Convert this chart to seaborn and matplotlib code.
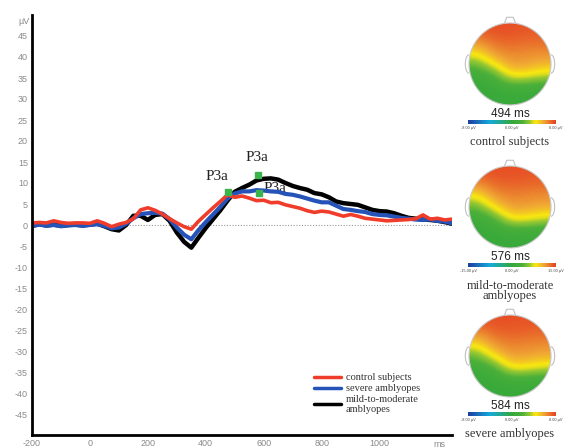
import numpy as np
import pandas as pd
import matplotlib
matplotlib.use("Agg")
import matplotlib.pyplot as plt
import seaborn as sns
from matplotlib.colors import LinearSegmentedColormap, Normalize
from matplotlib.patches import Circle, Polygon, Arc
import matplotlib.colorbar as mcolorbar

# ERP waveforms (ms, µV)
times = list(range(-200, 1251, 25))
control = [0.5, 0.6, 0.5, 1.0, 0.6, 0.4, 0.5, 0.5, 0.4, 1.0, 0.4, -0.4, 0.2, 0.6, 1.5, 3.6,
           4.1, 3.5, 2.6, 1.5, 0.5, -0.4, -1.0, 0.9, 2.5, 4.1, 5.6, 7.2, 6.6, 6.9, 6.4, 5.8,
           5.9, 5.3, 5.4, 4.8, 4.4, 4.0, 3.4, 3.0, 3.3, 3.1, 2.6, 2.1, 2.5, 2.1, 1.6, 1.4,
           1.2, 1.0, 1.1, 1.2, 1.3, 1.5, 2.4, 1.4, 1.6, 1.2, 1.4]
severe = [-0.3, 0.1, -0.2, 0.0, -0.3, -0.1, 0.0, -0.2, 0.0, 0.2, -0.2, -0.8, -0.6, 0.3, 1.6, 2.6,
          2.8, 2.9, 2.7, 1.4, -0.6, -2.3, -3.4, -1.2, 0.7, 2.5, 4.3, 6.3, 7.5, 8.0, 8.0, 8.3,
          8.2, 8.0, 7.9, 7.4, 7.2, 6.8, 6.3, 5.8, 5.4, 5.4, 4.6, 3.8, 3.6, 3.3, 3.1, 2.6,
          2.4, 2.3, 2.0, 1.7, 1.5, 1.3, 1.2, 1.3, 1.0, 0.8, 0.4]
mild = [-0.2, 0.2, -0.1, 0.1, -0.2, 0.0, 0.1, -0.1, 0.1, 0.3, -0.3, -1.0, -1.3, 0.0, 2.2, 2.2,
        1.2, 2.4, 2.6, 1.0, -1.8, -4.0, -5.4, -3.0, -0.7, 1.4, 3.5, 5.8, 7.9, 8.8, 9.6, 10.6,
        11.0, 11.1, 10.8, 10.0, 9.3, 8.8, 8.4, 7.6, 7.3, 6.6, 5.6, 5.2, 5.0, 4.8, 4.2, 3.6,
        3.3, 3.2, 2.8, 2.2, 1.7, 1.5, 1.3, 1.2, 1.0, 0.7, 0.3]

groups = ["control subjects", "severe amblyopes", "mild-to-moderate\namblyopes"]
colors = ["#f03c2a", "#2553b8", "#000000"]

# P3a peak markers: (ms, µV) and label positions
p3a_t = [476, 580, 582]
p3a_v = [7.8, 11.8, 7.6]
p3a_label_t = [438, 575, 640]
p3a_label_v = [10.0, 14.5, 7.2]

# scalp maps (normalised value grid, top row = front of head)
maps_time = ["494 ms", "576 ms", "584 ms"]
maps_range = [["-8.00 µV", "0.00 µV", "8.00 µV"],
              ["-15.00 µV", "0.00 µV", "15.00 µV"],
              ["-8.00 µV", "0.00 µV", "8.00 µV"]]
maps_title = ["control subjects", "mild-to-moderate\namblyopes", "severe amblyopes"]
map_control = [[0.92, 0.95, 0.95, 0.93, 0.92],
               [0.80, 0.88, 0.90, 0.88, 0.88],
               [0.57, 0.78, 0.82, 0.80, 0.80],
               [0.30, 0.55, 0.75, 0.74, 0.68],
               [0.12, 0.20, 0.55, 0.53, 0.45],
               [0.05, 0.08, 0.15, 0.15, 0.12],
               [0.02, 0.03, 0.05, 0.05, 0.05]]
map_mild = [[0.92, 0.95, 0.95, 0.94, 0.93],
            [0.80, 0.88, 0.90, 0.89, 0.88],
            [0.55, 0.78, 0.83, 0.81, 0.80],
            [0.28, 0.56, 0.75, 0.74, 0.70],
            [0.12, 0.20, 0.55, 0.54, 0.47],
            [0.05, 0.08, 0.15, 0.15, 0.12],
            [0.02, 0.03, 0.05, 0.05, 0.05]]
map_severe = [[0.92, 0.95, 0.95, 0.94, 0.93],
              [0.80, 0.88, 0.90, 0.89, 0.88],
              [0.56, 0.78, 0.83, 0.81, 0.80],
              [0.29, 0.56, 0.75, 0.74, 0.70],
              [0.12, 0.20, 0.55, 0.54, 0.47],
              [0.05, 0.08, 0.15, 0.15, 0.12],
              [0.02, 0.03, 0.05, 0.05, 0.05]]
maps = [map_control, map_mild, map_severe]

sns.set_theme(style="white")
plt.rcParams["font.family"] = ["Liberation Sans", "DejaVu Sans"]
plt.rcParams["axes.unicode_minus"] = False

W, H = 571, 448
fig = plt.figure(figsize=(W / 100, H / 100), dpi=100)
ax = fig.add_axes([32 / W, 13 / H, 420 / W, 420 / H])

df = pd.DataFrame({
    "time": times * 3,
    "amp": control + severe + mild,
    "group": [groups[0]] * len(times) + [groups[1]] * len(times) + [groups[2]] * len(times),
})
ax.axhline(0, color="#9a9a9a", lw=0.8, ls=(0, (1, 1.5)), zorder=0)
sns.lineplot(data=df, x="time", y="amp", hue="group",
             hue_order=groups[::-1], palette=dict(zip(groups, colors)),
             estimator=None, sort=False, ax=ax, legend=False)
for line, lw in zip(ax.lines[1:], [3.2, 3.0, 2.6]):
    line.set_linewidth(lw)
    line.set_solid_joinstyle("round")

serif = ["Liberation Serif", "DejaVu Serif"]
for lt, lv in zip(p3a_label_t, p3a_label_v):
    ax.text(lt, lv, "P3a", family=serif, fontsize=11, ha="center", va="bottom",
            color="#222222", zorder=1)
ax.plot(p3a_t, p3a_v, "s", color="#3cb44b", ms=4, zorder=5)

ax.set_xlim(-200, 1250)
ax.set_ylim(-50, 50)
ax.set_xticks(range(-200, 1001, 200))
ax.set_yticks(range(-45, 46, 5))
ax.tick_params(axis="both", labelsize=6.5, labelcolor="#8a8a8a", length=0, pad=3)
ax.set_xlabel("")
ax.set_ylabel("")
for s in ["top", "right"]:
    ax.spines[s].set_visible(False)
for s in ["left", "bottom"]:
    ax.spines[s].set_color("black")
    ax.spines[s].set_linewidth(2)
ax.text(-0.005, 0.985, "µV", transform=ax.transAxes, ha="right", va="center",
        fontsize=6.5, color="#8a8a8a")
ax.text(1207, -0.012, "ms", transform=ax.get_xaxis_transform(), ha="center", va="top",
        fontsize=6.5, color="#8a8a8a")

handles = [plt.Line2D([], [], color=c, lw=2.5) for c in colors]
ax.legend(handles, groups, loc="upper left", bbox_to_anchor=(0.66, 0.16), frameon=False,
          prop={"family": serif, "size": 7.5}, handlelength=2.6, handletextpad=0.4,
          labelspacing=0.15, borderpad=0, labelcolor="#333333")

cmap = LinearSegmentedColormap.from_list(
    "topo", [(0.0, "#1f3ca0"), (0.25, "#14aadc"), (0.5, "#34a83a"), (0.62, "#4cb03a"),
             (0.7, "#96c832"), (0.745, "#e2de1a"), (0.775, "#f8e810"), (0.81, "#f4cc20"),
             (0.86, "#f0a834"), (0.9, "#ec8c30"), (0.96, "#e85a28"), (1.0, "#e6401e")])

centers_y = [64, 207, 356]
for cy, grid, tlabel, rng, title in zip(centers_y, maps, maps_time, maps_range, maps_title):
    hax = fig.add_axes([(510 - 50) / W, (H - cy - 50) / H, 100 / W, 100 / H])
    hax.set_xlim(-1.22, 1.22)
    hax.set_ylim(-1.22, 1.22)
    hax.set_axis_off()
    im = hax.imshow(np.array(grid), cmap=cmap, norm=Normalize(-1, 1),
                    extent=[-1, 1, -1, 1], interpolation="bicubic", zorder=2)
    clip = Circle((0, 0), 1.0, transform=hax.transData)
    im.set_clip_path(clip)
    hax.add_patch(Circle((0, 0), 1.0, fill=False, ec="#c8c8c8", lw=0.8, zorder=3))
    hax.add_patch(Polygon([[-0.14, 0.985], [-0.08, 1.14], [0.08, 1.14], [0.14, 0.985]],
                          closed=False, fill=False, ec="#c0c0c0", lw=0.8, zorder=1))
    for sx in (-1, 1):
        hax.add_patch(Arc((sx * 1.0, 0.0), 0.18, 0.45, theta1=-90 if sx > 0 else 90,
                          theta2=90 if sx > 0 else 270, ec="#c0c0c0", lw=0.8))
    fig.text(510 / W, 1 - (cy + 50) / H, tlabel, ha="center", va="center", fontsize=8.5,
             color="#222222")
    cax = fig.add_axes([468 / W, 1 - (cy + 60) / H, 88 / W, 4 / H])
    cb = mcolorbar.ColorbarBase(cax, cmap=cmap, norm=Normalize(-1, 1), orientation="horizontal")
    cb.outline.set_visible(False)
    cax.set_xticks([])
    for xf, lab in zip([0.0, 0.5, 1.0], rng):
        fig.text((468 + 88 * xf) / W, 1 - (cy + 64) / H, lab, ha="center", va="center",
                 fontsize=2.8, color="#444444")
    fig.text(510 / W, 1 - (cy + 78 + (6 if "\n" in title else 0)) / H, title,
             ha="center", va="center", family=serif, fontsize=9, color="#333333",
             linespacing=0.85)

fig.savefig("out.png", dpi=100)
